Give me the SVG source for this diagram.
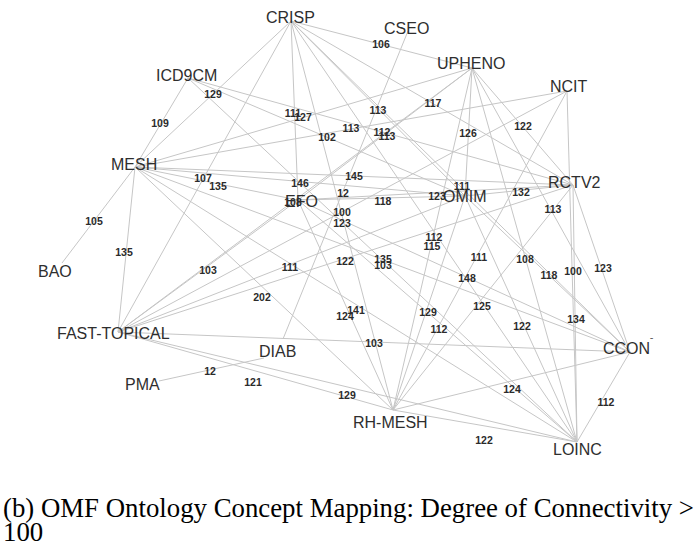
<svg xmlns="http://www.w3.org/2000/svg" width="699" height="547" viewBox="0 0 699 547">
  <style>
    .e { stroke: #c6c6c6; stroke-width: 1; fill: none; }
    .el { font-family: "Liberation Sans", Arial, sans-serif; font-size: 10.5px; font-weight: bold; fill: #2b2b2b; text-anchor: middle; }
    .nl { font-family: "Liberation Sans", Arial, sans-serif; font-size: 16px; fill: #2e2e2e; }
    .cap { font-family: "Liberation Serif", "Times New Roman", serif; font-size: 26.8px; fill: #000; }
  </style>
  <rect width="699" height="547" fill="#fff"/>

  <!-- connectors -->
  <g id="connectors">
    <line class="e" x1="291" y1="21" x2="472" y2="68"/>
    <line class="e" x1="291" y1="21" x2="135" y2="167"/>
    <line class="e" x1="291" y1="21" x2="298" y2="200"/>
    <line class="e" x1="135" y1="167" x2="472" y2="68"/>
    <line class="e" x1="291" y1="21" x2="465" y2="196"/>
    <line class="e" x1="291" y1="21" x2="573" y2="185"/>
    <line class="e" x1="472" y1="68" x2="573" y2="185"/>
    <line class="e" x1="472" y1="68" x2="465" y2="196"/>
    <line class="e" x1="188" y1="78" x2="135" y2="167"/>
    <line class="e" x1="188" y1="78" x2="465" y2="196"/>
    <line class="e" x1="567" y1="91" x2="135" y2="167"/>
    <line class="e" x1="472" y1="68" x2="298" y2="200"/>
    <line class="e" x1="188" y1="78" x2="573" y2="185"/>
    <line class="e" x1="118" y1="332" x2="291" y2="21"/>
    <line class="e" x1="135" y1="167" x2="298" y2="200"/>
    <line class="e" x1="135" y1="167" x2="465" y2="196"/>
    <line class="e" x1="135" y1="167" x2="573" y2="185"/>
    <line class="e" x1="408" y1="31" x2="283" y2="339"/>
    <line class="e" x1="118" y1="332" x2="472" y2="68"/>
    <line class="e" x1="298" y1="200" x2="465" y2="196"/>
    <line class="e" x1="298" y1="200" x2="573" y2="185"/>
    <line class="e" x1="291" y1="21" x2="630" y2="352"/>
    <line class="e" x1="465" y1="196" x2="573" y2="185"/>
    <line class="e" x1="472" y1="68" x2="630" y2="352"/>
    <line class="e" x1="291" y1="21" x2="393" y2="410"/>
    <line class="e" x1="567" y1="91" x2="118" y2="332"/>
    <line class="e" x1="135" y1="167" x2="62" y2="263"/>
    <line class="e" x1="135" y1="167" x2="118" y2="332"/>
    <line class="e" x1="118" y1="332" x2="298" y2="200"/>
    <line class="e" x1="118" y1="332" x2="465" y2="196"/>
    <line class="e" x1="118" y1="332" x2="573" y2="185"/>
    <line class="e" x1="135" y1="167" x2="630" y2="352"/>
    <line class="e" x1="188" y1="78" x2="577" y2="442"/>
    <line class="e" x1="291" y1="21" x2="577" y2="442"/>
    <line class="e" x1="472" y1="68" x2="393" y2="410"/>
    <line class="e" x1="567" y1="91" x2="393" y2="410"/>
    <line class="e" x1="472" y1="68" x2="577" y2="442"/>
    <line class="e" x1="465" y1="196" x2="630" y2="352"/>
    <line class="e" x1="567" y1="91" x2="577" y2="442"/>
    <line class="e" x1="573" y1="185" x2="630" y2="352"/>
    <line class="e" x1="298" y1="200" x2="630" y2="352"/>
    <line class="e" x1="135" y1="167" x2="393" y2="410"/>
    <line class="e" x1="135" y1="167" x2="577" y2="442"/>
    <line class="e" x1="298" y1="200" x2="393" y2="410"/>
    <line class="e" x1="465" y1="196" x2="393" y2="410"/>
    <line class="e" x1="298" y1="200" x2="577" y2="442"/>
    <line class="e" x1="573" y1="185" x2="393" y2="410"/>
    <line class="e" x1="465" y1="196" x2="577" y2="442"/>
    <line class="e" x1="118" y1="332" x2="630" y2="352"/>
    <line class="e" x1="630" y1="352" x2="577" y2="442"/>
    <line class="e" x1="573" y1="185" x2="577" y2="442"/>
    <line class="e" x1="393" y1="410" x2="630" y2="352"/>
    <line class="e" x1="159" y1="381" x2="264" y2="358"/>
    <line class="e" x1="118" y1="332" x2="393" y2="410"/>
    <line class="e" x1="118" y1="332" x2="577" y2="442"/>
    <line class="e" x1="393" y1="410" x2="577" y2="442"/>
  </g>

  <!-- edge weights -->
  <g id="edge-labels">
    <text class="el" x="381" y="48">106</text>
    <text class="el" x="213" y="98">129</text>
    <text class="el" x="293" y="117">111</text>
    <text class="el" x="303" y="121">127</text>
    <text class="el" x="378" y="114">113</text>
    <text class="el" x="433" y="107">117</text>
    <text class="el" x="523" y="130">122</text>
    <text class="el" x="468" y="137">126</text>
    <text class="el" x="160" y="127">109</text>
    <text class="el" x="327" y="141">102</text>
    <text class="el" x="351" y="132">113</text>
    <text class="el" x="382" y="136">112</text>
    <text class="el" x="387" y="140">113</text>
    <text class="el" x="203" y="182">107</text>
    <text class="el" x="218" y="190">135</text>
    <text class="el" x="300" y="187">146</text>
    <text class="el" x="354" y="180">145</text>
    <text class="el" x="343" y="197">12</text>
    <text class="el" x="293" y="206">108</text>
    <text class="el" x="383" y="205">118</text>
    <text class="el" x="437" y="200">123</text>
    <text class="el" x="462" y="190">111</text>
    <text class="el" x="521" y="196">132</text>
    <text class="el" x="553" y="213">113</text>
    <text class="el" x="342" y="216">100</text>
    <text class="el" x="342" y="227">123</text>
    <text class="el" x="94" y="225">105</text>
    <text class="el" x="124" y="256">135</text>
    <text class="el" x="208" y="274">103</text>
    <text class="el" x="290" y="271">111</text>
    <text class="el" x="345" y="265">122</text>
    <text class="el" x="383" y="263">135</text>
    <text class="el" x="383" y="269">103</text>
    <text class="el" x="434" y="241">112</text>
    <text class="el" x="432" y="250">115</text>
    <text class="el" x="479" y="261">111</text>
    <text class="el" x="525" y="263">108</text>
    <text class="el" x="549" y="279">118</text>
    <text class="el" x="573" y="275">100</text>
    <text class="el" x="603" y="272">123</text>
    <text class="el" x="467" y="282">148</text>
    <text class="el" x="262" y="301">202</text>
    <text class="el" x="356" y="314">141</text>
    <text class="el" x="345" y="320">124</text>
    <text class="el" x="428" y="316">129</text>
    <text class="el" x="482" y="310">125</text>
    <text class="el" x="439" y="333">112</text>
    <text class="el" x="522" y="330">122</text>
    <text class="el" x="576" y="323">134</text>
    <text class="el" x="374" y="347">103</text>
    <text class="el" x="512" y="393">124</text>
    <text class="el" x="606" y="406">112</text>
    <text class="el" x="210" y="375">12</text>
    <text class="el" x="253" y="386">121</text>
    <text class="el" x="347" y="399">129</text>
    <text class="el" x="484" y="444">122</text>
  </g>

  <!-- nodes -->
  <g id="crisp"><text class="nl" x="266" y="23">CRISP</text></g>
  <g id="cseo"><text class="nl" x="384" y="34">CSEO</text></g>
  <g id="upheno"><text class="nl" x="437" y="69">UPHENO</text></g>
  <g id="ncit"><text class="nl" x="550" y="92">NCIT</text></g>
  <g id="icd9cm"><text class="nl" x="156" y="81">ICD9CM</text></g>
  <g id="mesh"><text class="nl" x="111" y="170">MESH</text></g>
  <g id="bao"><text class="nl" x="38" y="277">BAO</text></g>
  <g id="efo"><text class="nl" x="285" y="207">EFO</text></g>
  <g id="omim"><text class="nl" x="443" y="202">OMIM</text></g>
  <g id="rctv2"><text class="nl" x="548" y="188">RCTV2</text></g>
  <g id="fast-topical"><text class="nl" x="57" y="339">FAST-TOPICAL</text></g>
  <g id="diab"><text class="nl" x="259" y="357">DIAB</text></g>
  <g id="pma"><text class="nl" x="125" y="390">PMA</text></g>
  <g id="rh-mesh"><text class="nl" x="353" y="428">RH-MESH</text></g>
  <g id="loinc"><text class="nl" x="553" y="455">LOINC</text></g>
  <g id="ccont"><text class="nl" x="603" y="354">CCON<tspan font-size="10" dy="-8">ˉ</tspan></text></g>

  <!-- caption -->
  <g id="caption">
    <text class="cap" x="3" y="517">(b) OMF Ontology Concept Mapping: Degree of Connectivity &gt;</text>
    <text class="cap" x="3" y="541">100</text>
  </g>
</svg>
